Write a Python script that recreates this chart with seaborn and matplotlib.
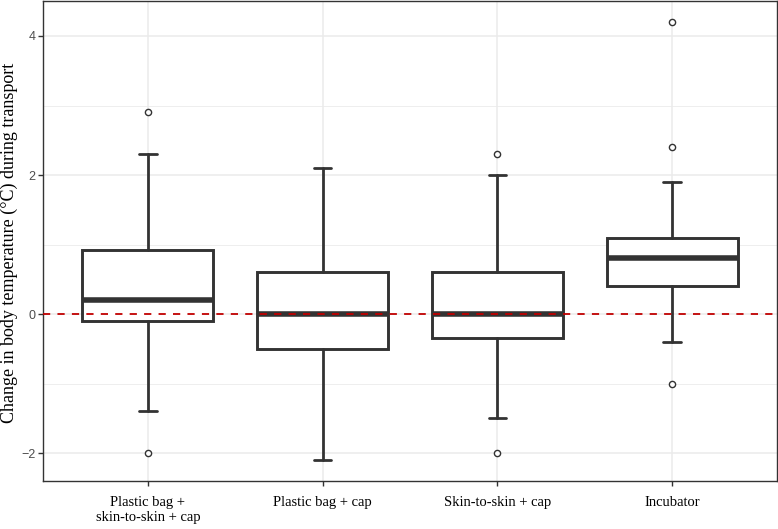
import matplotlib
matplotlib.use("Agg")
import matplotlib.pyplot as plt
import seaborn as sns
import pandas as pd
from matplotlib.ticker import MultipleLocator

# ---- data ----
categories = ["Plastic bag +\nskin-to-skin + cap", "Plastic bag + cap",
              "Skin-to-skin + cap", "Incubator"]
whisker_low = [-1.4, -2.1, -1.5, -0.4]
q1 = [-0.1, -0.5, -0.34, 0.40]
median = [0.2, 0.0, 0.0, 0.80]
q3 = [0.92, 0.60, 0.60, 1.10]
whisker_high = [2.3, 2.1, 2.0, 1.9]
outlier_group = ["Plastic bag +\nskin-to-skin + cap", "Plastic bag +\nskin-to-skin + cap",
                 "Skin-to-skin + cap", "Skin-to-skin + cap",
                 "Incubator", "Incubator", "Incubator"]
outlier_value = [2.9, -2.0, 2.3, -2.0, 4.2, 2.4, -1.0]
y_ticks = [-2, 0, 2, 4]

sns.set_theme(style="whitegrid")
plt.rcParams["font.family"] = ["Liberation Serif", "DejaVu Serif"]

fig = plt.figure(figsize=(7.78, 5.29), dpi=100)
ax = fig.add_axes([43 / 778, 48 / 529, 734 / 778, 1 - 48 / 529 - 0.5 / 529])

dark = "#333333"
stats = []
for i, c in enumerate(categories):
    stats.append(dict(label=c, whislo=whisker_low[i], q1=q1[i], med=median[i],
                      q3=q3[i], whishi=whisker_high[i], fliers=[]))

ax.bxp(stats, positions=range(len(categories)), widths=0.75, capwidths=0.1,
       showfliers=False, patch_artist=True,
       boxprops=dict(facecolor="white", edgecolor=dark, linewidth=2.1),
       medianprops=dict(color=dark, linewidth=4.0, solid_capstyle="butt"),
       whiskerprops=dict(color=dark, linewidth=2.0),
       capprops=dict(color=dark, linewidth=2.0),
       zorder=3)

pos_map = {c: i for i, c in enumerate(categories)}
df_out = pd.DataFrame({"x": [pos_map[g] for g in outlier_group], "y": outlier_value})
sns.scatterplot(data=df_out, x="x", y="y", ax=ax, marker="o", s=20,
                facecolor="white", edgecolor=dark, linewidth=1.0, zorder=4)

ax.axhline(0, color="#C00000", linestyle=(0, (4, 4)), linewidth=1.3, zorder=5)

ax.set_xlim(-0.6, 3.6)
ax.set_ylim(-2.4, 4.51)
ax.set_xticks(range(len(categories)))
ax.set_xticklabels(categories, fontsize=10.5, color="black")
ax.set_yticks(y_ticks)
ax.set_yticklabels([str(t) if t >= 0 else "\u2212" + str(-t) for t in y_ticks],
                   fontsize=9, color="#4D4D4D", family="Liberation Sans")
ax.yaxis.set_minor_locator(MultipleLocator(1))
ax.set_xlabel("")
ax.set_ylabel("Change in body temperature (°C) during transport", fontsize=13,
              color="black", va="center")
ax.yaxis.set_label_coords((9.5 - 43) / 734, 0.495)

ax.set_facecolor("white")
ax.grid(True, which="major", color="#EBEBEB", linewidth=1.1, zorder=0)
ax.grid(True, which="minor", axis="y", color="#EBEBEB", linewidth=0.6, zorder=0)
ax.set_axisbelow(True)
for sp in ax.spines.values():
    sp.set_visible(True)
    sp.set_color(dark)
    sp.set_linewidth(1.0)
ax.tick_params(axis="both", which="major", length=3.5, width=1.0, color=dark,
               direction="out", left=True, bottom=True, pad=2)
ax.tick_params(axis="y", which="minor", length=0)
ax.tick_params(axis="x", pad=7)

fig.savefig("out.png", dpi=100)
